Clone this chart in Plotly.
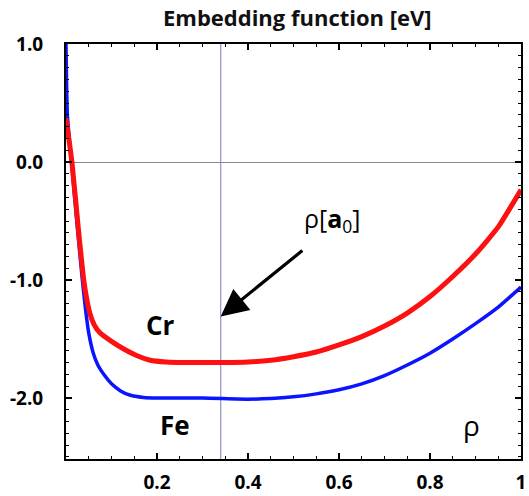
import plotly.graph_objects as go

# Cr embedding function (red)
cr_rho = [0.0, 0.013, 0.028, 0.039, 0.046, 0.053, 0.062, 0.075, 0.10, 0.127, 0.155, 0.185, 0.22, 0.26, 0.30,
          0.35, 0.40, 0.45, 0.50, 0.55, 0.60, 0.65, 0.70, 0.75, 0.80, 0.85, 0.90, 0.95, 1.0]
cr_F = [0.37, 0.0, -0.60, -1.0, -1.17, -1.29, -1.38, -1.45, -1.52, -1.585, -1.64, -1.68, -1.695, -1.70, -1.70,
        -1.70, -1.695, -1.68, -1.65, -1.61, -1.55, -1.48, -1.39, -1.28, -1.14, -0.97, -0.78, -0.55, -0.235]

# Fe embedding function (blue)
fe_rho = [0.0, 0.003, 0.012, 0.026, 0.036, 0.043, 0.05, 0.06, 0.07, 0.085, 0.10, 0.12, 0.14, 0.17,
          0.20, 0.30, 0.40, 0.45, 0.50, 0.55, 0.60, 0.65, 0.70, 0.75, 0.80, 0.85, 0.90, 0.95, 1.0]
fe_F = [1.0, 0.4, 0.0, -0.6, -1.0, -1.25, -1.45, -1.62, -1.72, -1.81, -1.88, -1.94, -1.975, -1.995,
        -2.0, -2.0, -2.01, -2.005, -1.99, -1.965, -1.93, -1.88, -1.81, -1.72, -1.62, -1.50, -1.37, -1.23, -1.06]

rho_a0 = 0.34

x_tickvals = [0.2, 0.4, 0.6, 0.8, 1.0]
x_ticktext = ["0.2", "0.4", "0.6", "0.8", "1"]
y_tickvals = [-2.0, -1.0, 0.0, 1.0]
y_ticktext = ["-2.0", "-1.0", "0.0", "1.0"]

FONT = "Open Sans"

fig = go.Figure()
fig.add_trace(go.Scatter(x=fe_rho, y=fe_F, mode="lines",
                         line=dict(color="#0a14ff", width=3.5, shape="spline", smoothing=0.5), name="Fe"))
fig.add_trace(go.Scatter(x=cr_rho, y=cr_F, mode="lines",
                         line=dict(color="#ff1010", width=5, shape="spline", smoothing=0.5), name="Cr"))

fig.add_shape(type="line", x0=rho_a0, x1=rho_a0, y0=0, y1=1, xref="x", yref="paper",
              line=dict(color="#9090d0", width=1.2), layer="below")

fig.add_annotation(x=rho_a0, y=-1.31, ax=0.526, ay=-0.73, xref="x", yref="y", axref="x", ayref="y",
                   text=" ", showarrow=True, arrowhead=2, arrowsize=1.7, arrowwidth=3.2, arrowcolor="black")
fig.add_annotation(x=0.585, y=-0.49, text="ρ[<b>a</b><sub>0</sub>]", showarrow=False,
                   font=dict(family=FONT, size=25, color="black"))
fig.add_annotation(x=0.207, y=-1.38, text="<b>Cr</b>", showarrow=False,
                   font=dict(family=FONT, size=26, color="black"))
fig.add_annotation(x=0.24, y=-2.23, text="<b>Fe</b>", showarrow=False,
                   font=dict(family=FONT, size=26, color="black"))
fig.add_annotation(x=0.892, y=-2.23, text="ρ", showarrow=False,
                   font=dict(family=FONT, size=28, color="black"))

fig.update_layout(
    width=529, height=496,
    margin=dict(l=66, r=8, t=44, b=37, autoexpand=False),
    paper_bgcolor="white", plot_bgcolor="white",
    showlegend=False,
    title=dict(text="<b>Embedding function [eV]</b>", x=0.562, xanchor="center", y=0.963, yanchor="middle",
               font=dict(family=FONT, size=22, color="#111")),
    xaxis=dict(range=[0, 1], tickmode="array", tickvals=x_tickvals, ticktext=x_ticktext,
               ticks="inside", ticklen=6, tickwidth=1.5, tickcolor="black",
               minor=dict(ticks="inside", dtick=0.05, ticklen=3, tickcolor="black", tickwidth=1),
               showline=True, linecolor="black", linewidth=2, mirror="allticks",
               showgrid=False, zeroline=False, ticklabelstandoff=5, automargin=False,
               tickfont=dict(family=FONT, size=19, color="black", weight="bold")),
    yaxis=dict(range=[-2.517, 1.0], tickmode="array", tickvals=y_tickvals, ticktext=y_ticktext,
               ticks="inside", ticklen=6, tickwidth=1.5, tickcolor="black",
               minor=dict(ticks="inside", dtick=0.1, ticklen=3, tickcolor="black", tickwidth=1),
               showline=True, linecolor="black", linewidth=2, mirror="allticks",
               showgrid=False, zeroline=True, zerolinecolor="#888888", zerolinewidth=1,
               ticklabelstandoff=17, automargin=False,
               tickfont=dict(family=FONT, size=19, color="black", weight="bold")),
)

fig.write_html("out.html")
